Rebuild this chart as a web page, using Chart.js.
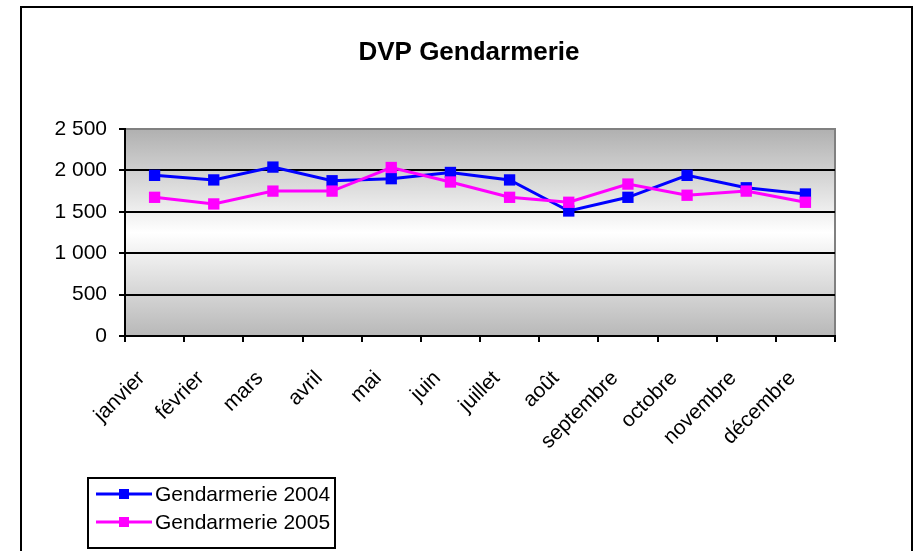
<!DOCTYPE html>
<html>
<head>
<meta charset="utf-8">
<script src="https://cdn.jsdelivr.net/npm/chart.js@4"></script>
<style>
html,body{margin:0;padding:0;background:#fff;}
canvas{display:block;}
</style>
</head>
<body>
<canvas id="c" width="919" height="551"></canvas>
<script>
const chartTitle = 'DVP Gendarmerie';
const months = ['janvier','février','mars','avril','mai','juin','juillet','août','septembre','octobre','novembre','décembre'];
const seriesNames = ['Gendarmerie 2004','Gendarmerie 2005'];
const values2004 = [1940,1885,2040,1875,1900,1975,1885,1510,1675,1940,1790,1715];
const values2005 = [1675,1595,1750,1750,2035,1860,1675,1615,1835,1700,1750,1615];
const yTicks = [0,500,1000,1500,2000,2500];
const seriesColors = ['#0000ff','#ff00ff'];

const FONT = 'Liberation Sans, Arial, sans-serif';

function fmt(v){ return String(v).replace(/\B(?=(\d{3})+(?!\d))/g,' '); }

const decoPlugin = {
  id:'deco',
  beforeDraw(chart){
    const {ctx, chartArea:a} = chart;
    ctx.save();
    ctx.fillStyle='#fff';
    ctx.fillRect(0,0,chart.width,chart.height);
    const g = ctx.createLinearGradient(0,a.top,0,a.bottom);
    g.addColorStop(0,'#b0b0b0');
    g.addColorStop(0.5,'#ffffff');
    g.addColorStop(1,'#b8b8b8');
    ctx.fillStyle=g;
    ctx.fillRect(a.left,a.top,a.right-a.left,a.bottom-a.top);
    ctx.strokeStyle='#808080'; ctx.lineWidth=2;
    ctx.beginPath(); ctx.moveTo(a.left,a.top); ctx.lineTo(a.right,a.top); ctx.lineTo(a.right,a.bottom); ctx.stroke();
    ctx.strokeStyle='#000'; ctx.lineWidth=2;
    ctx.strokeRect(21,7,891,570);
    ctx.fillStyle='#000';
    ctx.font='bold 26px '+FONT;
    ctx.textAlign='center'; ctx.textBaseline='middle';
    ctx.fillText(chartTitle,469,53);
    ctx.restore();
  },
  afterDraw(chart){
    const ctx = chart.ctx;
    ctx.save();
    ctx.strokeStyle='#000'; ctx.lineWidth=2;
    ctx.strokeRect(88,478,247,70);
    chart.data.datasets.forEach((ds,i)=>{
      const y = 494 + i*28;
      ctx.strokeStyle=ds.borderColor; ctx.lineWidth=3;
      ctx.beginPath(); ctx.moveTo(96,y); ctx.lineTo(152,y); ctx.stroke();
      ctx.fillStyle=ds.borderColor;
      ctx.fillRect(119,y-5,10,10);
      ctx.fillStyle='#000';
      ctx.font='21px '+FONT;
      ctx.textAlign='left'; ctx.textBaseline='middle';
      ctx.fillText(ds.label,155,y+1);
    });
    ctx.restore();
  }
};

new Chart(document.getElementById('c'),{
  type:'line',
  data:{
    labels:months,
    datasets:[
      {label:seriesNames[0],data:values2004,borderColor:seriesColors[0],backgroundColor:seriesColors[0],borderWidth:3,pointStyle:'rect',pointRadius:8,pointBorderWidth:0,tension:0,order:1},
      {label:seriesNames[1],data:values2005,borderColor:seriesColors[1],backgroundColor:seriesColors[1],borderWidth:3,pointStyle:'rect',pointRadius:8,pointBorderWidth:0,tension:0,order:0}
    ]
  },
  options:{
    responsive:false,
    animation:false,
    layout:{padding:{top:129,right:84,left:0,bottom:0}},
    plugins:{legend:{display:false},title:{display:false},tooltip:{enabled:false}},
    scales:{
      x:{
        offset:true,
        grid:{offset:true,drawOnChartArea:false,drawTicks:true,tickLength:6,color:'#000',lineWidth:2},
        border:{color:'#000',width:2},
        ticks:{color:'#000',font:{family:FONT,size:21},minRotation:45,maxRotation:45,padding:24,labelOffset:-13,autoSkip:false},
        afterFit(s){ s.height = 215; }
      },
      y:{
        min:0,max:2500,
        afterBuildTicks(s){ s.ticks = yTicks.map(v=>({value:v})); },
        grid:{color:c=>(c.tick && c.tick.value===2500)?'rgba(0,0,0,0)':'#000',tickColor:'#000',lineWidth:2,tickLength:6},
        border:{color:'#000',width:2},
        ticks:{color:'#000',font:{family:FONT,size:21},padding:12,callback:v=>fmt(v)},
        afterFit(s){ s.width = 125; }
      }
    }
  },
  plugins:[decoPlugin]
});
</script>
</body>
</html>
